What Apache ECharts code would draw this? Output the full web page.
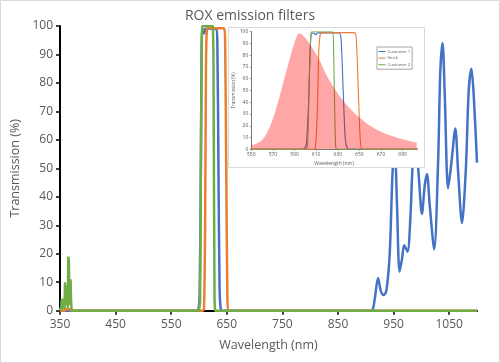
<!DOCTYPE html>
<html>
<head>
<meta charset="utf-8">
<script src="https://cdn.jsdelivr.net/npm/echarts@6/dist/echarts.min.js"></script>
<style>
html,body{margin:0;padding:0;background:#fff;}
#chart{width:500px;height:363px;}
</style>
</head>
<body>
<div id="chart"></div>
<script>
// ---- data ----
const titleText = 'ROX emission filters';
const seriesNames = ['Customer 1', 'Stock', 'Customer 2'];
const roxName = 'ROX emission';
const mainXTicks = [350, 450, 550, 650, 750, 850, 950, 1050];
const insetXTicks = [550, 570, 590, 610, 630, 650, 670, 690];

const customer1 = [
  [350,0],[596,0],[599,0.5],[601,5],[603,40],[604.5,85],[606,98.8],[608,98.6],[609.5,97.4],[611,98.8],[613,99],
  [631,99],[633,94],[635,50],[637,8],[639,0.5],[641,0],
  [905,0],[912,0.3],[916,4],[922,11.5],[927,7],[932,5.5],[937,7],[943,20],[948,48],[952,58],[956,38],[960.7,13.7],
  [965,18],[969,23],[975,20.7],[980,32],[985,54],[990,60],[995,48],[1001,34],[1006,44],[1010,48],[1015,37],
  [1023,21.6],[1030,52],[1034,84],[1038,94],[1042,76],[1048,43],[1054,52],[1061,64],[1066,49],[1073,30.8],
  [1080,50],[1085,77],[1090,85],[1094,76],[1100,52]
];
const stock = [
  [350,0],[358,0],[360,0.5],[368,0.5],[370,0],[606,0],[609,0.5],[611,30],[612.5,85],[614,98.5],[616,99.2],
  [645,99.2],[647,95],[649,50],[651,5],[653,0],[1100,0]
];
const customer2 = [
  [350,0],[351,1],[352,0],[353,4],[354,0.5],[355,4.3],[356,1],[357,3],[358,0.5],[359,10],[360,2],[361,9],
  [362,3],[363,6],[364,1],[365,19],[366,17],[367,2],[368,8],[369,11],[370,3],[371,0],
  [600,0],[602,3],[603.5,55],[605,97],[606,100],[625,100],[626,90],[627,40],[628,3],[629,0],[1100,0]
];
const roxEmission = [
  [550,3.5],[555,5],[560,8],[565,15],[570,26],[575,41],[580,58],[585,75],[589,88],[592,96],[594,98.5],
  [596,98],[599,95.5],[603,91],[608,84],[613,76],[619,64],[626,53],[632,45],[640,36],[650,27],[660,20],
  [670,15],[681,11],[690,8.5],[703,5.5]
];

// ---- chart ----
const colors = ['#4472C4', '#ED7D31', '#70AD47'];
const txt = '#595959';
const font = 'Open Sans';
const chart = echarts.init(document.getElementById('chart'), null, {renderer: 'canvas'});
const plain = v => String(v);

const mainSeries = [customer1, stock, customer2].map((d, i) => ({
  name: seriesNames[i], type: 'line', xAxisIndex: 0, yAxisIndex: 0, data: d,
  showSymbol: false, symbol: 'none', smooth: 0.3,
  lineStyle: {color: colors[i], width: 2.5}, itemStyle: {color: colors[i]}, z: 2, silent: true
}));
mainSeries[2].smooth = false;
mainSeries[1].smooth = 0.2;
const insetSeries = [customer1, stock, customer2].map((d, i) => ({
  name: seriesNames[i], type: 'line', xAxisIndex: 1, yAxisIndex: 1, data: d,
  showSymbol: false, symbol: 'none', smooth: 0.25,
  lineStyle: {color: colors[i], width: 1.1}, itemStyle: {color: colors[i]}, z: 8, silent: true
}));
const roxSeries = {
  name: roxName, type: 'line', xAxisIndex: 1, yAxisIndex: 1, data: roxEmission,
  showSymbol: false, symbol: 'none', smooth: 0.4,
  lineStyle: {width: 0}, areaStyle: {color: 'rgba(255,0,0,0.35)', opacity: 1}, z: 9, silent: true
};

chart.setOption({
  animation: false,
  textStyle: {fontFamily: font},
  title: {text: titleText, left: 'center', top: 4,
    textStyle: {color: txt, fontSize: 14, fontWeight: 'normal', fontFamily: font}},
  graphic: [
    {type: 'rect', shape: {x: 0.5, y: 0.5, width: 499, height: 362}, style: {fill: null, stroke: '#d9d9d9', lineWidth: 1}, z: 0, silent: true},
    {type: 'rect', shape: {x: 228.5, y: 27.5, width: 196, height: 140}, style: {fill: '#fff', stroke: '#d9d9d9', lineWidth: 1}, z: 5, silent: true}
  ],
  legend: {
    data: seriesNames.map(n => ({name: n, icon: 'rect'})), orient: 'vertical', left: 377, top: 47, z: 10,
    itemWidth: 7, itemHeight: 1, itemGap: 2.6, padding: [2.5, 2, 2.5, 1.5],
    borderColor: '#a6a6a6', borderWidth: 1, backgroundColor: '#fff',
    textStyle: {fontSize: 4.2, color: txt, fontFamily: font, padding: [0,0,0,-3]},
    selectedMode: false
  },
  grid: [
    {left: 60, top: 26, width: 417, height: 284.7, containLabel: false},
    {left: 251.3, top: 31.7, width: 165.4, height: 117.6, containLabel: false, z: 6}
  ],
  xAxis: [
    {type: 'value', gridIndex: 0, min: 350, max: 1100, interval: 100,
      name: 'Wavelength (nm)', nameLocation: 'middle', nameGap: 28,
      nameTextStyle: {color: txt, fontSize: 12.5, fontFamily: font},
      axisLine: {show: true, lineStyle: {color: '#000', width: 2}},
      axisTick: {show: true, inside: false, length: 4, lineStyle: {color: '#000', width: 1.5}, customValues: mainXTicks},
      axisLabel: {color: txt, fontSize: 12, margin: 8, customValues: mainXTicks, fontFamily: font, formatter: plain},
      splitLine: {show: false}},
    {type: 'value', gridIndex: 1, min: 550, max: 703, interval: 20, z: 7,
      name: 'Wavelength (nm)', nameLocation: 'middle', nameGap: 12,
      nameTextStyle: {color: txt, fontSize: 5, fontFamily: font},
      axisLine: {show: true, lineStyle: {color: '#595959', width: 0.8}},
      axisTick: {show: true, inside: false, length: 1.5, lineStyle: {color: '#595959', width: 0.6}, customValues: insetXTicks},
      axisLabel: {color: txt, fontSize: 5, margin: 3, customValues: insetXTicks, fontFamily: font, formatter: plain},
      splitLine: {show: false}}
  ],
  yAxis: [
    {type: 'value', gridIndex: 0, min: 0, max: 100, interval: 10,
      name: 'Transmission (%)', nameLocation: 'middle', nameGap: 38,
      nameTextStyle: {color: txt, fontSize: 12.5, fontFamily: font},
      axisLine: {show: true, lineStyle: {color: '#000', width: 2}},
      axisTick: {show: true, inside: false, length: 4, lineStyle: {color: '#000', width: 1.5}},
      axisLabel: {color: txt, fontSize: 12, margin: 7, fontFamily: font},
      splitLine: {show: false}},
    {type: 'value', gridIndex: 1, min: 0, max: 100, interval: 10, z: 7,
      name: 'Transmission (%)', nameLocation: 'middle', nameGap: 14,
      nameTextStyle: {color: txt, fontSize: 4.6, fontFamily: font},
      axisLine: {show: true, lineStyle: {color: '#595959', width: 0.8}},
      axisTick: {show: true, inside: false, length: 1.5, lineStyle: {color: '#595959', width: 0.6}},
      axisLabel: {color: txt, fontSize: 5, margin: 3, fontFamily: font},
      splitLine: {show: false}}
  ],
  series: [...mainSeries, ...insetSeries, roxSeries]
});
</script>
</body>
</html>
